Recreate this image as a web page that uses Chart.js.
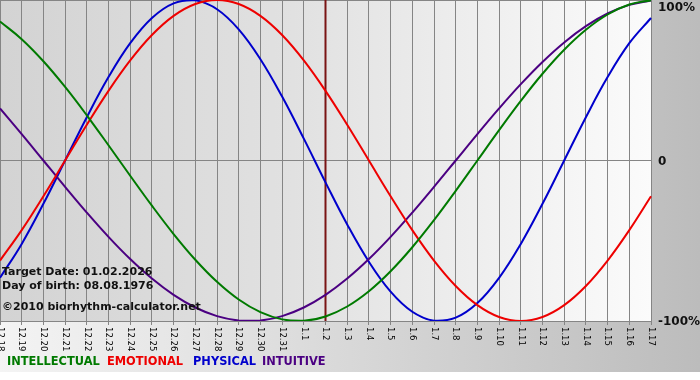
<!DOCTYPE html>
<html>
<head>
<meta charset="utf-8">
<script src="https://cdn.jsdelivr.net/npm/chart.js@4"></script>
<style>
  html, body { margin: 0; padding: 0; background: #ffffff; }
  #wrap { width: 700px; height: 380px; }
</style>
</head>
<body>
<div id="wrap"><canvas id="c" width="700" height="380"></canvas></div>
<script>
// ---- data ----
const dayLabels = ['12.18','12.19','12.20','12.21','12.22','12.23','12.24','12.25','12.26','12.27','12.28','12.29','12.30','12.31',
  '1.1','1.2','1.3','1.4','1.5','1.6','1.7','1.8','1.9','1.10','1.11','1.12','1.13','1.14','1.15','1.16','1.17'];
const targetLabel = '1.2';

const intellectual = [0.866,0.7557,0.6182,0.4582,0.2817,0.0951,-0.0951,-0.2817,-0.4582,-0.6182,-0.7557,-0.866,-0.945,-0.9898,-0.9989,
  -0.9718,-0.9096,-0.8146,-0.6901,-0.5406,-0.3717,-0.1893,0,0.1893,0.3717,0.5406,0.6901,0.8146,0.9096,0.9718,0.9989];
const emotional = [-0.6235,-0.4339,-0.2225,0,0.2225,0.4339,0.6235,0.7818,0.901,0.9749,1,0.9749,0.901,0.7818,0.6235,
  0.4339,0.2225,0,-0.2225,-0.4339,-0.6235,-0.7818,-0.901,-0.9749,-1,-0.9749,-0.901,-0.7818,-0.6235,-0.4339,-0.2225];
const physical = [-0.7308,-0.5196,-0.2698,0,0.2698,0.5196,0.7308,0.8879,0.9791,0.9977,0.9423,0.817,0.6311,0.3984,0.1362,
  -0.1362,-0.3984,-0.6311,-0.817,-0.9423,-0.9977,-0.9791,-0.8879,-0.7308,-0.5196,-0.2698,0,0.2698,0.5196,0.7308,0.8879];
const intuitive = [0.3247,0.1646,0,-0.1646,-0.3247,-0.4759,-0.6142,-0.7357,-0.8372,-0.9158,-0.9694,-0.9966,-0.9966,-0.9694,-0.9158,
  -0.8372,-0.7357,-0.6142,-0.4759,-0.3247,-0.1646,0,0.1646,0.3247,0.4759,0.6142,0.7357,0.8372,0.9158,0.9694,0.9966];

const seriesNames = ['INTELLECTUAL','EMOTIONAL','PHYSICAL','INTUITIVE'];
const yTickValues = [1, 0, -1];
const yTickLabels = ['100%', '0', '-100%'];
const infoLines = ['Target Date: 01.02.2026', 'Day of birth: 08.08.1976', '©2010 biorhythm-calculator.net'];

// ---- styles ----
const colors = ['#007a00', '#ee0000', '#0000cc', '#4b0082'];
const legendX = [7, 107, 193, 262];
const FONT = '"DejaVu Sans", Verdana, sans-serif';

const decor = {
  id: 'decor',
  beforeDraw(chart) {
    const { ctx, chartArea: a, width, height } = chart;
    ctx.save();
    ctx.fillStyle = '#ffffff';
    ctx.fillRect(0, 0, width, height);
    let g = ctx.createLinearGradient(0, 0, width, 0);
    g.addColorStop(0, '#f4f4f4');
    g.addColorStop(1, '#bcbcbc');
    ctx.fillStyle = g;
    ctx.fillRect(0, 0, width, 372);
    g = ctx.createLinearGradient(a.left, 0, a.right, 0);
    g.addColorStop(0, '#d3d3d3');
    g.addColorStop(0.45, '#e1e1e1');
    g.addColorStop(1, '#fbfbfb');
    ctx.fillStyle = g;
    ctx.fillRect(a.left, a.top, a.right - a.left, a.bottom - a.top);
    ctx.restore();
  },
  beforeDatasetsDraw(chart) {
    const { ctx, chartArea: a, scales } = chart;
    const x = scales.x.getPixelForValue(dayLabels.indexOf(targetLabel));
    ctx.save();
    ctx.strokeStyle = '#7a1414';
    ctx.lineWidth = 2;
    ctx.beginPath();
    ctx.moveTo(x, a.top);
    ctx.lineTo(x, a.bottom);
    ctx.stroke();
    ctx.restore();
  },
  afterDraw(chart) {
    const { ctx, chartArea: a, scales, height } = chart;
    ctx.save();
    // x tick labels, rotated clockwise
    ctx.fillStyle = '#000000';
    ctx.font = '8.5px ' + FONT;
    ctx.textAlign = 'left';
    ctx.textBaseline = 'middle';
    dayLabels.forEach((lab, i) => {
      const x = scales.x.getPixelForTick(i);
      ctx.save();
      ctx.translate(x, a.bottom + 6);
      ctx.rotate(Math.PI / 2);
      ctx.fillText(lab, 0, 0);
      ctx.restore();
    });
    // y labels on the right
    ctx.font = 'bold 12px ' + FONT;
    ctx.fillStyle = '#111111';
    yTickValues.forEach((v, i) => {
      let y = scales.y.getPixelForValue(v) + 1;
      y = Math.max(8, Math.min(height - 8, y));
      ctx.fillText(yTickLabels[i], a.right + 7, y);
    });
    // info text
    ctx.font = 'bold 11px ' + FONT;
    ctx.fillStyle = '#111111';
    ctx.fillText(infoLines[0], 2, 272);
    ctx.fillText(infoLines[1], 2, 286);
    ctx.fillText(infoLines[2], 2, 307);
    // legend
    ctx.font = 'bold 11.4px ' + FONT;
    seriesNames.forEach((n, i) => {
      ctx.fillStyle = colors[i];
      ctx.fillText(n, legendX[i], 362);
    });
    ctx.restore();
  }
};

const seriesData = [intellectual, emotional, physical, intuitive];
const drawOrder = [0, 1, 3, 2];

new Chart(document.getElementById('c'), {
  type: 'line',
  data: {
    labels: dayLabels,
    datasets: seriesNames.map((n, i) => ({
      label: n,
      data: seriesData[i],
      borderColor: colors[i],
      borderWidth: 2,
      pointRadius: 0,
      tension: 0.4,
      fill: false,
      order: drawOrder[i]
    }))
  },
  options: {
    responsive: false,
    animation: false,
    devicePixelRatio: 1,
    layout: { padding: { left: 0, top: 0, right: 49, bottom: 55 } },
    plugins: { legend: { display: false }, tooltip: { enabled: false } },
    scales: {
      x: {
        type: 'category',
        offset: false,
        ticks: { display: false },
        grid: { color: '#858585', lineWidth: 1, drawTicks: true, tickLength: 4, offset: false },
        border: { color: '#858585' }
      },
      y: {
        position: 'right',
        min: -1,
        max: 1,
        ticks: { display: false, stepSize: 1 },
        grid: { color: '#858585', lineWidth: 1, drawTicks: false },
        border: { color: '#858585' }
      }
    }
  },
  plugins: [decor]
});
</script>
</body>
</html>
